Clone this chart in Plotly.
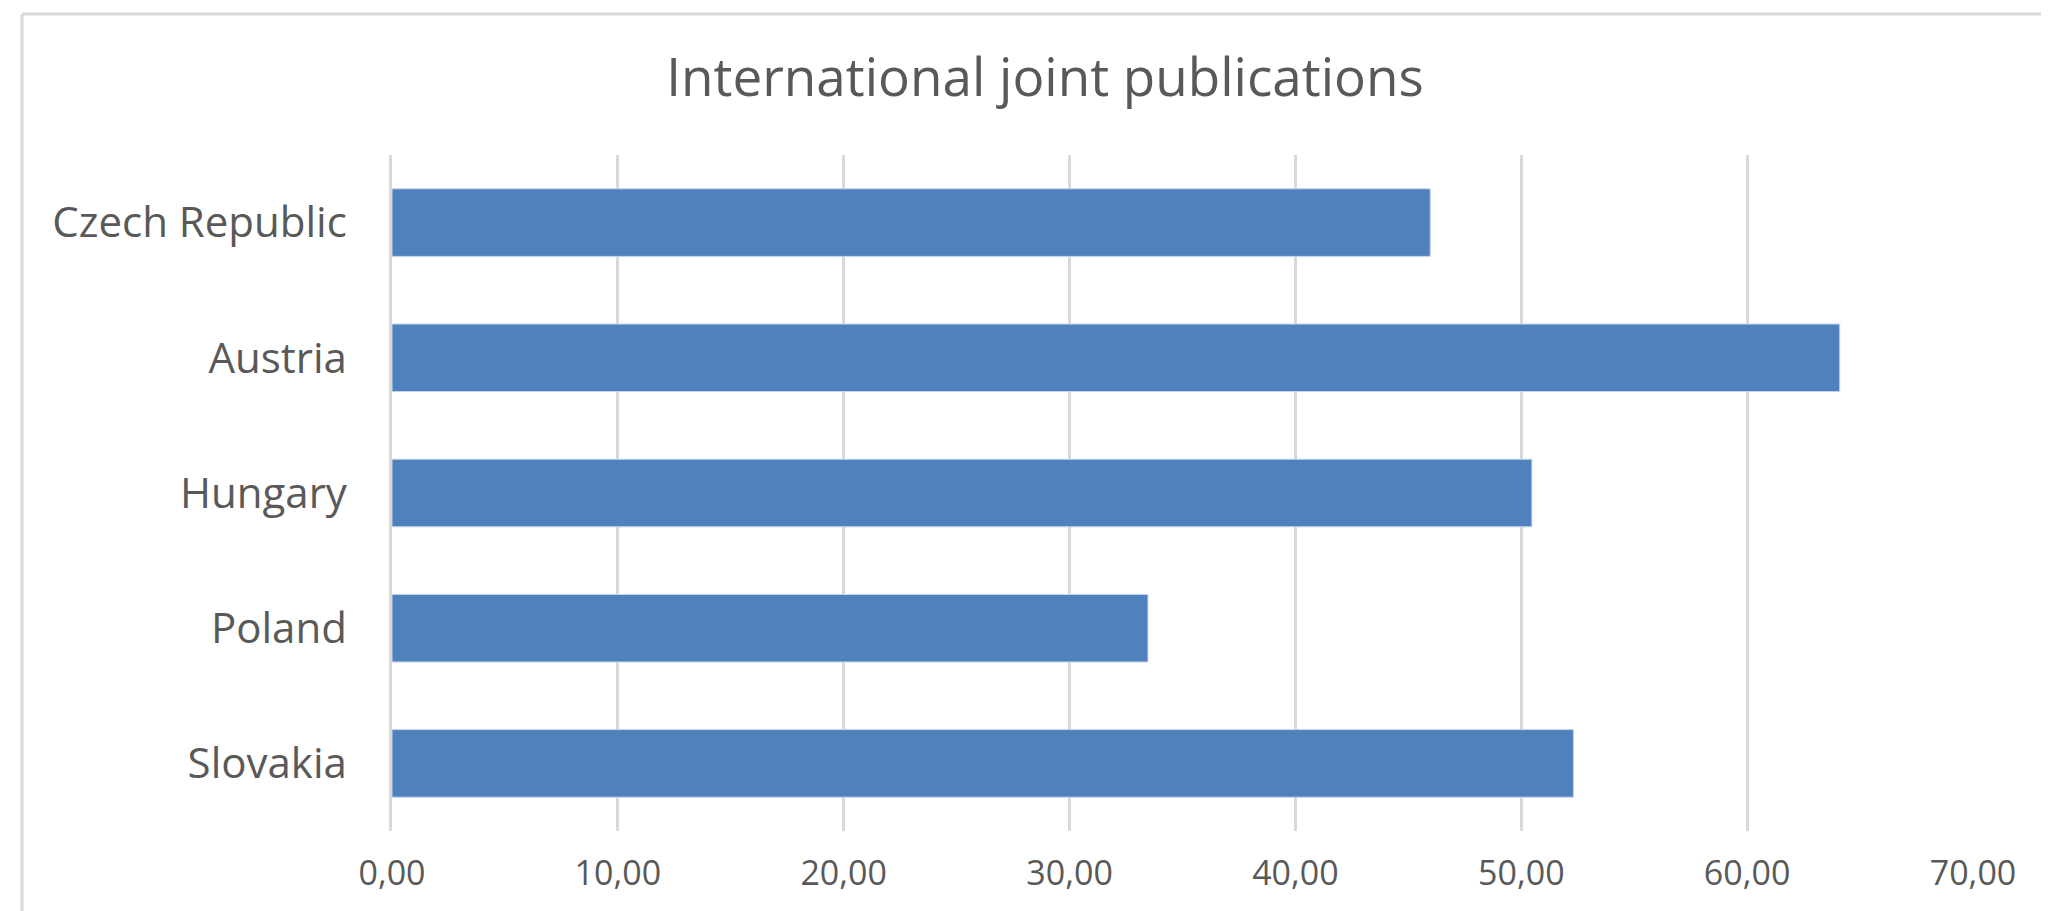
import plotly.graph_objects as go

countries = ["Czech Republic", "Austria", "Hungary", "Poland", "Slovakia"]
values = [45.97, 64.10, 50.47, 33.47, 52.31]
tick_vals = [0, 10, 20, 30, 40, 50, 60, 70]

W, H = 2049, 911
OFF = 8  # default page body margin
L = 392 - OFF
T = 155 - OFF
R = W - (1973 - OFF)
B = H - (831 - OFF)
pw, ph = W - L - R, H - T - B

def px_x(p):
    return (p - OFF - L) / pw

def px_y(p):
    return (H - B - (p - OFF)) / ph

fig = go.Figure(
    go.Bar(
        x=values,
        y=countries,
        orientation="h",
        marker=dict(color="#4F81BD", line=dict(color="#c8d6ea", width=1)),
        width=0.5,
        hoverinfo="x+y",
    )
)

fig.update_layout(
    width=W,
    height=H,
    margin=dict(l=L, r=R, t=T, b=B),
    paper_bgcolor="white",
    plot_bgcolor="white",
    separators=", ",
    font=dict(family="Open Sans", color="#595959"),
    showlegend=False,
    title=dict(
        text="International joint publications",
        x=(1045 - OFF) / W,
        xanchor="center",
        xref="container",
        y=1 - (77 - OFF) / H,
        yanchor="middle",
        yref="container",
        font=dict(size=53, color="#595959", family="Open Sans"),
    ),
    xaxis=dict(
        range=[0, 70],
        tickvals=tick_vals,
        tickformat=".2f",
        showgrid=True,
        gridcolor="#d9d9d9",
        gridwidth=2.5,
        zeroline=False,
        showline=False,
        ticks="",
        ticklabelstandoff=19,
        tickfont=dict(size=34, color="#595959"),
    ),
    yaxis=dict(
        autorange="reversed",
        showgrid=False,
        zeroline=False,
        showline=True,
        linecolor="#d9d9d9",
        linewidth=2.5,
        ticks="",
        ticklabelstandoff=34,
        tickfont=dict(size=42, color="#595959"),
    ),
    shapes=[
        dict(type="line", xref="paper", yref="paper",
             x0=px_x(22), x1=px_x(22), y0=px_y(960), y1=px_y(14),
             line=dict(color="#d9d9d9", width=3), layer="below"),
        dict(type="line", xref="paper", yref="paper",
             x0=px_x(22), x1=px_x(2100), y0=px_y(14), y1=px_y(14),
             line=dict(color="#d9d9d9", width=3), layer="below"),
    ],
)

fig.write_html("out.html")
